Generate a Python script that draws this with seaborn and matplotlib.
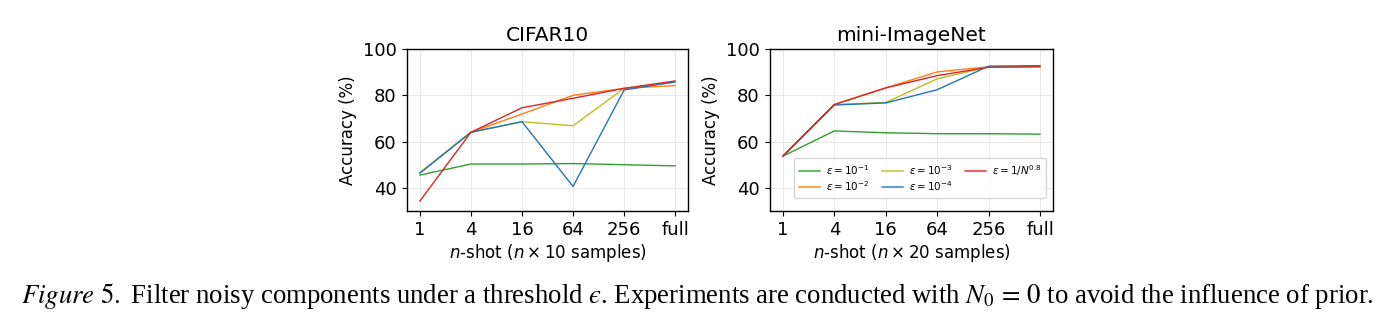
import numpy as np
import pandas as pd
import matplotlib
matplotlib.use("Agg")
import matplotlib.pyplot as plt
import seaborn as sns

# ========== data ==========
shots = ["1", "4", "16", "64", "256", "full"]
series_names = [r"$\varepsilon=10^{-1}$", r"$\varepsilon=10^{-2}$", r"$\varepsilon=10^{-3}$",
                r"$\varepsilon=10^{-4}$", r"$\varepsilon=1/N^{0.8}$"]
colors = ["#2ca02c", "#ff7f0e", "#bcbd22", "#1f77b4", "#d62728"]

# CIFAR10 accuracy (%)
cifar_e1 = [45.5, 50.3, 50.3, 50.5, 50.0, 49.5]
cifar_e2 = [46.5, 64.0, 71.9, 80.0, 83.0, 84.2]
cifar_e3 = [46.5, 64.0, 68.6, 66.8, 83.0, 85.6]
cifar_e4 = [46.3, 64.0, 68.6, 40.6, 82.3, 85.8]
cifar_n08 = [34.2, 64.0, 74.6, 78.7, 83.0, 86.2]

# mini-ImageNet accuracy (%)
mini_e1 = [53.7, 64.6, 63.8, 63.4, 63.4, 63.2]
mini_e2 = [53.7, 76.0, 83.2, 90.1, 92.3, 92.4]
mini_e3 = [53.7, 76.0, 76.9, 87.1, 92.3, 92.6]
mini_e4 = [53.7, 75.8, 76.7, 82.4, 92.6, 92.8]
mini_n08 = [53.7, 76.0, 83.2, 88.5, 92.1, 92.3]

sns.set_style("ticks")
plt.rcParams["font.family"] = ["DejaVu Sans"]
plt.rcParams["text.color"] = "black"
plt.rcParams["axes.labelcolor"] = "black"
plt.rcParams["xtick.color"] = "black"
plt.rcParams["ytick.color"] = "black"


def to_long(vals_list):
    rows = []
    for name, vals in zip(series_names, vals_list):
        for i, (s, v) in enumerate(zip(shots, vals)):
            rows.append({"pos": i, "shot": s, "acc": v, "eps": name})
    return pd.DataFrame(rows)


cifar_df = to_long([cifar_e1, cifar_e2, cifar_e3, cifar_e4, cifar_n08])
mini_df = to_long([mini_e1, mini_e2, mini_e3, mini_e4, mini_n08])

fig = plt.figure(figsize=(13.95, 3.31), dpi=100)
ax1 = fig.add_axes([407 / 1395, 1 - 211 / 331, 281 / 1395, 162 / 331])
ax2 = fig.add_axes([770 / 1395, 1 - 211 / 331, 283 / 1395, 162 / 331])

for ax, df, title, xlab, show_leg in [
    (ax1, cifar_df, "CIFAR10", r"$n$-shot ($n\times10$ samples)", False),
    (ax2, mini_df, "mini-ImageNet", r"$n$-shot ($n\times20$ samples)", True),
]:
    sns.lineplot(data=df, x="pos", y="acc", hue="eps", palette=colors,
                 hue_order=series_names, linewidth=1.0, ax=ax, legend=show_leg)
    ax.set_xticks(range(len(shots)))
    ax.set_xticklabels(shots)
    ax.set_xlim(-0.25, 5.25)
    ax.set_ylim(30, 100)
    ax.set_yticks([40, 60, 80, 100])
    ax.grid(True, color="#e4e4e4", linewidth=0.6)
    ax.tick_params(labelsize=13, pad=4)
    ax.set_title(title, fontsize=14.5, pad=6)
    ax.set_xlabel(xlab, fontsize=12, labelpad=2)
    ax.set_ylabel("Accuracy (%)", fontsize=12, labelpad=4)
    for sp in ax.spines.values():
        sp.set_linewidth(1.0)
        sp.set_color("black")

leg = ax2.legend(loc="lower right", ncol=3, fontsize=7.5, frameon=True,
                 handlelength=2.0, handletextpad=0.6, columnspacing=1.15,
                 borderpad=0.45, labelspacing=0.25, bbox_to_anchor=(0.995, 0.05))
for h in leg.get_lines():
    h.set_alpha(0.7)
    h.set_linewidth(1.5)

fig.text(0.5, 1 - 296 / 331,
         r"$\mathit{Figure\ 5.}$ Filter noisy components under a threshold $ϵ$. "
         r"Experiments are conducted with $N_0\,=\,0$ to avoid the influence of prior.",
         ha="center", va="center", fontsize=19.3, family="Liberation Serif",
         math_fontfamily="stix")

fig.savefig("out.png", dpi=100)
